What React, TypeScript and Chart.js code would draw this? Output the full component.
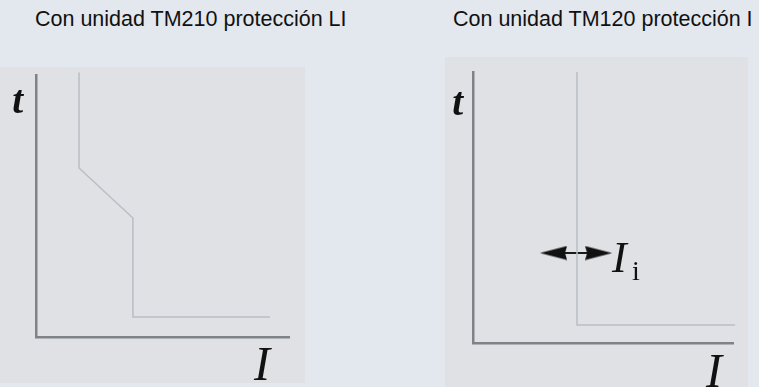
import React, { useEffect, useRef } from 'react';
import { Chart, registerables } from 'chart.js';

Chart.register(...registerables);

// ---------- text ----------
const titleLI = 'Con unidad TM210 protección LI';
const titleI = 'Con unidad TM120 protección I';
const labelTime = 't';
const labelCurrent = 'I';
const labelIiMain = 'I';
const labelIiSub = 'i';

// ---------- data (relative units 0..100) ----------
// Left: LI protection curve (current x, time y)
const curveLIx = [17.0, 17.0, 38.3, 38.3, 92.5];
const curveLIy = [101, 64.5, 45.4, 7.6, 7.6];
// Right: I protection curve
const curveIx = [40, 40, 100.8];
const curveIy = [100, 6.6, 6.6];
// Right: adjustment arrow around Ii
const arrowX = [31, 48.3];
const arrowY = [33.2, 33.2];

// ---------- styles ----------
const PAGE_BG = '#e3e7ee';
const PANEL_BG = '#dfe1e5';
const AXIS_COLOR = '#7f8287';
const CURVE_COLOR = '#b9bec5';
const TEXT_COLOR = '#111111';

type Label = { text: string; x: number; y: number; font: string; align: CanvasTextAlign };

const labelPlugin = {
  id: 'freeLabels',
  afterDraw(chart: any, _args: any, opts: any) {
    const { ctx } = chart;
    const xs = chart.scales.x;
    const ys = chart.scales.y;
    (opts.items || []).forEach((l: Label) => {
      ctx.save();
      ctx.font = l.font;
      ctx.fillStyle = TEXT_COLOR;
      ctx.textAlign = l.align;
      ctx.textBaseline = 'alphabetic';
      ctx.fillText(l.text, xs.getPixelForValue(l.x), ys.getPixelForValue(l.y));
      ctx.restore();
    });
  },
};

function makeArrowHead(): HTMLCanvasElement {
  const c = document.createElement('canvas');
  c.width = 27;
  c.height = 15;
  const g = c.getContext('2d')!;
  g.fillStyle = '#111111';
  g.beginPath();
  g.moveTo(27, 7.5);
  g.lineTo(0, 0.5);
  g.lineTo(2, 7.5);
  g.lineTo(0, 14.5);
  g.closePath();
  g.fill();
  return c;
}

function zip(xs: number[], ys: number[]) {
  return xs.map((x, i) => ({ x, y: ys[i] }));
}

function scaleOpts() {
  return {
    type: 'linear' as const,
    min: 0,
    max: 100,
    ticks: { display: false },
    grid: { display: false, drawTicks: false },
    border: { display: true, color: AXIS_COLOR, width: 2.5 },
  };
}

function ChartPanel(props: {
  left: number; top: number; width: number; height: number;
  padding: { left: number; right: number; top: number; bottom: number };
  datasets: any[]; labels: Label[];
}) {
  const ref = useRef<HTMLCanvasElement>(null);
  useEffect(() => {
    const chart = new Chart(ref.current!, {
      type: 'scatter',
      data: { datasets: props.datasets },
      options: {
        animation: false,
        responsive: false,
        maintainAspectRatio: false,
        layout: { padding: props.padding, autoPadding: false },
        plugins: {
          legend: { display: false },
          tooltip: { enabled: false },
          freeLabels: { items: props.labels },
        } as any,
        scales: { x: scaleOpts(), y: scaleOpts() },
      },
      plugins: [labelPlugin],
    });
    return () => chart.destroy();
  }, []);
  return (
    <div style={{ position: 'absolute', left: props.left, top: props.top, width: props.width, height: props.height, background: PANEL_BG }}>
      <canvas ref={ref} width={props.width} height={props.height} style={{ display: 'block' }} />
    </div>
  );
}

const titleStyle: React.CSSProperties = {
  position: 'absolute',
  top: 9,
  fontFamily: '"Liberation Sans", Arial, sans-serif',
  fontSize: '21.5px',
  lineHeight: 1,
  color: TEXT_COLOR,
  whiteSpace: 'nowrap',
};

const serif = '"Liberation Serif", "Times New Roman", serif';

export default function App() {
  const arrowHead = makeArrowHead();
  const curveLine = {
    showLine: true, borderColor: CURVE_COLOR, borderWidth: 1.5, pointRadius: 0, clip: false, tension: 0,
  };
  const leftDatasets = [{ ...curveLine, data: zip(curveLIx, curveLIy) }];
  const rightDatasets = [
    { ...curveLine, data: zip(curveIx, curveIy) },
    {
      data: zip(arrowX, arrowY), showLine: true, borderColor: '#1a1a1a', borderWidth: 2,
      pointStyle: arrowHead, pointRotation: [180, 0], pointRadius: 5, clip: false,
    },
  ];
  const leftLabels: Label[] = [
    { text: labelTime, x: -5.1, y: 85.5, font: `italic bold 39px ${serif}`, align: 'right' },
    { text: labelCurrent, x: 89.3, y: -16.4, font: `italic 48px ${serif}`, align: 'center' },
  ];
  const rightLabels: Label[] = [
    { text: labelTime, x: -3.8, y: 84.1, font: `italic bold 39px ${serif}`, align: 'right' },
    { text: labelCurrent, x: 92.7, y: -16.2, font: `italic 48px ${serif}`, align: 'center' },
    { text: labelIiMain, x: 53.5, y: 26.2, font: `italic 44px ${serif}`, align: 'left' },
    { text: labelIiSub, x: 61.2, y: 23.4, font: `28px ${serif}`, align: 'left' },
  ];
  return (
    <div style={{ position: 'absolute', left: 0, top: 0, width: 759, height: 387, background: PAGE_BG, overflow: 'hidden' }}>
      <div style={{ ...titleStyle, left: 35 }}>{titleLI}</div>
      <div style={{ ...titleStyle, left: 453 }}>{titleI}</div>
      <ChartPanel left={0} top={67} width={305} height={316}
        padding={{ left: 36, right: 16, top: 8, bottom: 46 }}
        datasets={leftDatasets} labels={leftLabels} />
      <ChartPanel left={445} top={57} width={303} height={330}
        padding={{ left: 28, right: 15, top: 15, bottom: 44 }}
        datasets={rightDatasets} labels={rightLabels} />
    </div>
  );
}
